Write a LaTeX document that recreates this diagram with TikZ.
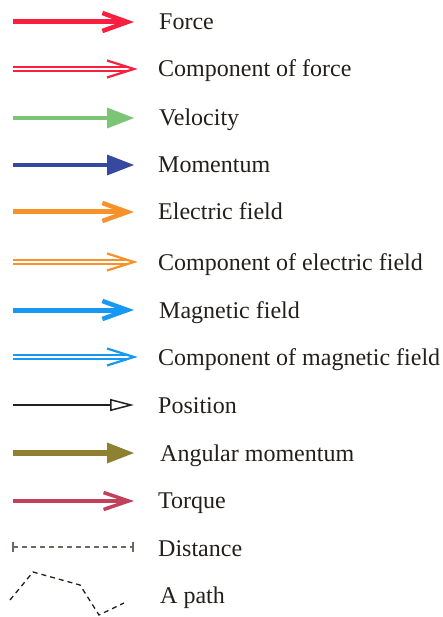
\documentclass[tikz,border=0pt]{standalone}
\usepackage{fontspec}
\setmainfont{Liberation Serif}
\usetikzlibrary{arrows.meta}

\definecolor{cforce}{HTML}{F9203F}
\definecolor{cvel}{HTML}{7CC576}
\definecolor{cmom}{HTML}{3549A1}
\definecolor{cefield}{HTML}{F7922A}
\definecolor{cbfield}{HTML}{1798F2}
\definecolor{cangmom}{HTML}{8E8132}
\definecolor{ctorque}{HTML}{C2415A}
\definecolor{ctext}{HTML}{231F1A}
\definecolor{cdist}{HTML}{6E685E}

\begin{document}
\begin{tikzpicture}[x=1pt,y=-1pt]
\tikzset{
  legendlabel/.style={anchor=base west,inner sep=0pt,text=ctext,font=\fontsize{24}{27}\selectfont},
  barbarrow/.style={line width=5pt,-{Straight Barb[length=25pt,width=18pt,line width=4.5pt]}},
  barbthin/.style={line width=4pt,-{Straight Barb[length=25pt,width=17pt,line width=3.5pt]}},
  trianglearrow/.style={line width=4.5pt,-{Triangle[length=27pt,width=21pt,line width=0pt]}},
  compshaft/.style={line width=1.6pt,double=white,double distance=2.2pt},
  comphead/.style={line width=2.2pt,miter limit=20},
  posarrow/.style={line width=1.5pt,-{Triangle[open,length=24pt,width=12pt,line width=1.5pt]}},
  dashline/.style={line width=1.3pt,dash pattern=on 5pt off 4pt}
}
\useasboundingbox (0,0) rectangle (443,617);
% rows, left end -- tip, and the label
\coordinate (s_force) at (13,22);   \coordinate (e_force) at (134,22);
\coordinate (s_fcomp) at (13,69);   \coordinate (m_fcomp) at (128,69);  \coordinate (e_fcomp) at (134,69);
\coordinate (s_vel) at (13,118);    \coordinate (e_vel) at (134,118);
\coordinate (s_mom) at (13,165);    \coordinate (e_mom) at (134,165);
\coordinate (s_efield) at (13,212); \coordinate (e_efield) at (134,212);
\coordinate (s_ecomp) at (13,262);  \coordinate (m_ecomp) at (128,262); \coordinate (e_ecomp) at (134,262);
\coordinate (s_bfield) at (13,310); \coordinate (e_bfield) at (134,310);
\coordinate (s_bcomp) at (13,357);  \coordinate (m_bcomp) at (128,357); \coordinate (e_bcomp) at (134,357);
\coordinate (s_pos) at (13,405);    \coordinate (e_pos) at (134,405);
\coordinate (s_angmom) at (13,453); \coordinate (e_angmom) at (134,453);
\coordinate (s_torque) at (13,501); \coordinate (e_torque) at (134,501);
\coordinate (s_dist) at (13,547);   \coordinate (e_dist) at (133,547);
\coordinate (p0) at (10,600);
\coordinate (p1) at (33,572);
\coordinate (p2) at (80,585);
\coordinate (p3) at (99,615);
\coordinate (p4) at (124,603);

\node[legendlabel] (t_force) at (159,30) {Force};
\node[legendlabel] (t_fcomp) at (158,77) {Component of force};
\node[legendlabel] (t_vel) at (159,126) {Velocity};
\node[legendlabel] (t_mom) at (158,173) {Momentum};
\node[legendlabel] (t_efield) at (158,220) {Electric field};
\node[legendlabel] (t_ecomp) at (158,270) {Component of electric field};
\node[legendlabel] (t_bfield) at (159,318) {Magnetic field};
\node[legendlabel] (t_bcomp) at (158,365) {Component of magnetic field};
\node[legendlabel] (t_pos) at (158,413) {Position};
\node[legendlabel] (t_angmom) at (160,461) {Angular momentum};
\node[legendlabel] (t_torque) at (158,508) {Torque};
\node[legendlabel] (t_dist) at (158,556) {Distance};
\node[legendlabel] (t_path) at (160,603) {A path};

\draw[barbarrow,cforce] (s_force) -- (e_force);
\draw[compshaft,cforce] (s_fcomp) -- (m_fcomp);
\draw[comphead,cforce] ([shift={(-27,-8.5)}]e_fcomp) -- (e_fcomp) -- ++(-27,8.5);
\draw[trianglearrow,cvel] (s_vel) -- (e_vel);
\draw[trianglearrow,cmom] (s_mom) -- (e_mom);
\draw[barbarrow,cefield] (s_efield) -- (e_efield);
\draw[compshaft,cefield] (s_ecomp) -- (m_ecomp);
\draw[comphead,cefield] ([shift={(-27,-8.5)}]e_ecomp) -- (e_ecomp) -- ++(-27,8.5);
\draw[barbarrow,cbfield] (s_bfield) -- (e_bfield);
\draw[compshaft,cbfield] (s_bcomp) -- (m_bcomp);
\draw[comphead,cbfield] ([shift={(-27,-8.5)}]e_bcomp) -- (e_bcomp) -- ++(-27,8.5);
\draw[posarrow,ctext] (s_pos) -- (e_pos);
\draw[trianglearrow,cangmom,line width=5.5pt] (s_angmom) -- (e_angmom);
\draw[barbthin,ctorque] (s_torque) -- (e_torque);
\draw[dashline,cdist] (s_dist) -- (e_dist);
\draw[line width=1.3pt,cdist] ([yshift=-5]s_dist) -- ([yshift=5]s_dist);
\draw[line width=1.3pt,cdist] ([yshift=-5]e_dist) -- ([yshift=5]e_dist);
\draw[dashline,ctext] (p0) -- (p1) -- (p2) -- (p3) -- (p4);
\end{tikzpicture}
\end{document}
